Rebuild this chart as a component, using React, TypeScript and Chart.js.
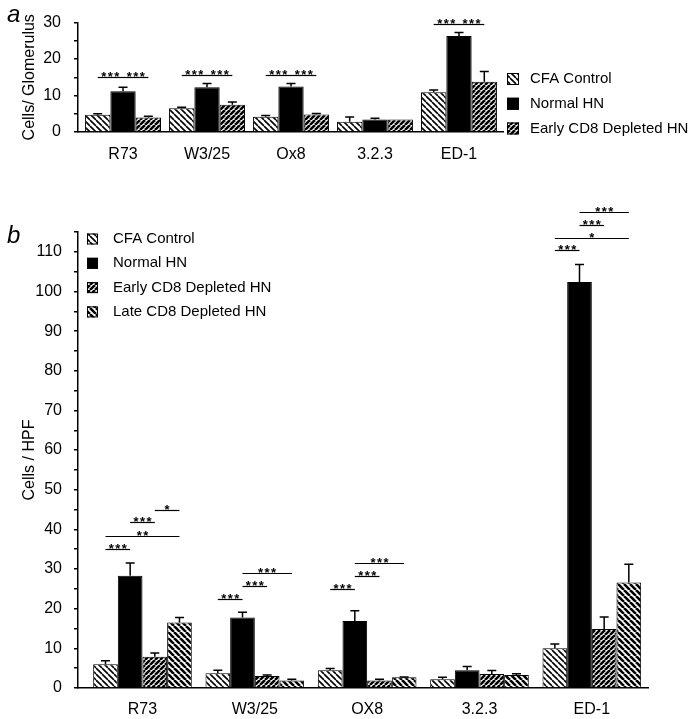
import React, { useEffect, useRef } from 'react';
import { Chart, registerables } from 'chart.js';

Chart.register(...registerables);

const FONT = '"Liberation Sans", Arial, Helvetica, sans-serif';

// ---------- Panel a ----------
const categoriesA = ['R73', 'W3/25', 'Ox8', '3.2.3', 'ED-1'];
const seriesA = ['CFA Control', 'Normal HN', 'Early CD8 Depleted HN'];
const cfaA = [4.7, 6.5, 4.2, 2.8, 10.9];
const cfaErrA = [0.3, 0.3, 0.3, 1.3, 0.6];
const normalA = [11.2, 12.3, 12.5, 3.4, 26.3];
const normalErrA = [1.1, 1.0, 0.8, 0.4, 1.0];
const earlyA = [4.0, 7.5, 4.8, 3.4, 13.8];
const earlyErrA = [0.3, 0.75, 0.3, 0, 2.8];
const yTicksA = [0, 10, 20, 30];
// [category, from series, to series, level, label]
const sigA: [number, number, number, number, string][] = [
  [0, 0, 1, 15.1, '***'], [0, 1, 2, 15.1, '***'],
  [1, 0, 1, 15.7, '***'], [1, 1, 2, 15.7, '***'],
  [2, 0, 1, 15.7, '***'], [2, 1, 2, 15.7, '***'],
  [4, 0, 1, 29.7, '***'], [4, 1, 2, 29.7, '***'],
];

// ---------- Panel b ----------
const categoriesB = ['R73', 'W3/25', 'OX8', '3.2.3', 'ED-1'];
const seriesB = ['CFA Control', 'Normal HN', 'Early CD8 Depleted HN', 'Late CD8 Depleted HN'];
const cfaB = [6.0, 3.7, 4.5, 2.2, 10.0];
const cfaErrB = [0.9, 0.8, 0.4, 0.5, 1.1];
const normalB = [28.3, 17.8, 16.9, 4.5, 102.4];
const normalErrB = [3.2, 1.3, 2.6, 0.9, 4.4];
const earlyB = [7.9, 3.0, 1.9, 3.5, 14.9];
const earlyErrB = [0.9, 0.3, 0.3, 0.9, 3.0];
const lateB = [16.5, 1.9, 2.7, 3.3, 26.6];
const lateErrB = [1.3, 0.3, 0.1, 0.3, 4.6];
const yTicksB = [0, 10, 20, 30, 40, 50, 60, 70, 80, 90, 100, 110];
const sigB: [number, number, number, number, string][] = [
  [0, 0, 1, 35.1, '***'], [0, 0, 3, 38.4, '**'], [0, 1, 2, 41.8, '***'], [0, 2, 3, 44.9, '*'],
  [1, 0, 1, 22.5, '***'], [1, 1, 2, 25.8, '***'], [1, 1, 3, 29.1, '***'],
  [2, 0, 1, 24.9, '***'], [2, 1, 2, 28.3, '***'], [2, 1, 3, 31.6, '***'],
  [4, 0, 1, 110.4, '***'], [4, 0, 3, 113.5, '*'], [4, 1, 2, 116.8, '***'], [4, 1, 3, 120.0, '***'],
];

type Kind = 'cfa' | 'normal' | 'early' | 'late';

function makeFill(ctx: CanvasRenderingContext2D, kind: Kind): string | CanvasPattern {
  if (kind === 'normal') return '#000';
  const size = kind === 'early' ? 5 : 6;
  const c = document.createElement('canvas');
  c.width = size;
  c.height = size;
  const g = c.getContext('2d')!;
  g.fillStyle = '#fff';
  g.fillRect(0, 0, size, size);
  g.strokeStyle = '#000';
  g.lineWidth = kind === 'cfa' ? 1.6 : 2.6;
  g.beginPath();
  for (const o of [-size, 0, size]) {
    if (kind === 'early') {
      g.moveTo(o, size);
      g.lineTo(o + size, 0);
    } else {
      g.moveTo(o, 0);
      g.lineTo(o + size, size);
    }
  }
  g.stroke();
  return ctx.createPattern(c, 'repeat') as CanvasPattern;
}

interface Panel {
  categories: string[];
  names: string[];
  values: number[][];
  errors: number[][];
  kinds: Kind[];
  yTickLabels: number[];
  catPct: number;
  xMin: number;
  xMax: number;
  yMax: number;
  yTitle: string;
  padTop: number;
  padRight: number;
  xHeight: number;
  xPad: number;
  yPad: number;
  sig: [number, number, number, number, string][];
  legend: { boxX: number; box: number; textX: number; y0: number; gap: number };
  label: { text: string; x: number; y: number };
}

function buildChart(canvas: HTMLCanvasElement, p: Panel) {
  const ctx = canvas.getContext('2d')!;
  const fills = p.kinds.map((k) => makeFill(ctx, k));

  const overlay = {
    id: 'overlay',
    afterDatasetsDraw(chart: any) {
      const c = chart.ctx as CanvasRenderingContext2D;
      const ys = chart.scales.y;
      c.save();
      c.strokeStyle = '#000';
      c.lineWidth = 1.5;
      p.values.forEach((vals, d) => {
        const meta = chart.getDatasetMeta(d);
        vals.forEach((v, i) => {
          const e = p.errors[d][i];
          if (!e) return;
          const x = meta.data[i].x;
          const y0 = ys.getPixelForValue(v);
          const y1 = ys.getPixelForValue(v + e);
          c.beginPath();
          c.moveTo(x, y0);
          c.lineTo(x, y1);
          c.moveTo(x - 4.5, y1);
          c.lineTo(x + 4.5, y1);
          c.stroke();
        });
      });
      c.restore();
    },
    afterDraw(chart: any) {
      const c = chart.ctx as CanvasRenderingContext2D;
      const ys = chart.scales.y;
      c.save();
      // significance lines
      c.strokeStyle = '#000';
      c.fillStyle = '#000';
      c.lineWidth = 1.2;
      c.font = `bold 13px ${FONT}`;
      c.textAlign = 'center';
      c.textBaseline = 'alphabetic';
      p.sig.forEach(([g, a, b, level, lab]) => {
        const x1 = chart.getDatasetMeta(a).data[g].x;
        const x2 = chart.getDatasetMeta(b).data[g].x;
        const y = Math.round(ys.getPixelForValue(level)) + 0.5;
        c.beginPath();
        c.moveTo(x1, y);
        c.lineTo(x2, y);
        c.stroke();
        const mid = (x1 + x2) / 2;
        const n = lab.length;
        for (let k = 0; k < n; k++) {
          c.fillText('*', mid + (k - (n - 1) / 2) * 6.5, y + 3);
        }
      });
      // legend
      const L = p.legend;
      c.font = `15px ${FONT}`;
      c.textAlign = 'left';
      c.textBaseline = 'middle';
      p.names.forEach((name, k) => {
        const cy = L.y0 + k * L.gap;
        c.fillStyle = fills[k] as any;
        c.fillRect(L.boxX, cy - L.box / 2, L.box, L.box);
        c.strokeStyle = '#000';
        c.lineWidth = 1;
        c.strokeRect(L.boxX + 0.5, cy - L.box / 2 + 0.5, L.box - 1, L.box - 1);
        c.fillStyle = '#000';
        c.fillText(name, L.textX, cy);
      });
      // panel letter
      c.font = `italic 24px ${FONT}`;
      c.textBaseline = 'alphabetic';
      c.fillText(p.label.text, p.label.x, p.label.y);
      c.restore();
    },
  };

  return new Chart(canvas, {
    type: 'bar',
    data: {
      datasets: p.names.map((name, k) => ({
        label: name,
        data: p.values[k].map((v, i) => ({ x: i, y: v })),
        backgroundColor: fills[k] as any,
        borderColor: '#000',
        borderWidth: 1,
        categoryPercentage: p.catPct,
        barPercentage: 1,
      })),
    },
    options: {
      animation: false,
      responsive: false,
      events: [],
      layout: { padding: { left: 0, top: p.padTop, right: p.padRight, bottom: 0 } },
      plugins: { legend: { display: false }, tooltip: { enabled: false } },
      scales: {
        x: {
          type: 'linear',
          min: p.xMin,
          max: p.xMax,
          offset: false,
          grid: { display: false, drawTicks: false },
          border: { display: true, color: '#000', width: 1.5 },
          afterBuildTicks: (s: any) => {
            s.ticks = p.categories.map((_, i) => ({ value: i }));
          },
          ticks: {
            autoSkip: false,
            maxRotation: 0,
            padding: p.xPad,
            color: '#000',
            font: { family: FONT, size: 16 },
            callback: (v: any) => p.categories[v] ?? '',
          },
          afterFit: (s: any) => {
            s.height = p.xHeight;
          },
        },
        y: {
          min: 0,
          max: p.yMax,
          ticks: {
            stepSize: 5,
            autoSkip: false,
            padding: p.yPad,
            color: '#000',
            font: { family: FONT, size: 16 },
            callback: (v: any) => (p.yTickLabels.includes(v) ? String(v) : ''),
          },
          grid: { drawOnChartArea: false, drawTicks: true, tickLength: 4, color: '#000', lineWidth: 1.5 },
          border: { display: true, color: '#000', width: 1.5 },
          title: {
            display: true,
            text: p.yTitle,
            color: '#000',
            font: { family: FONT, size: 16 },
            padding: { top: 20, bottom: 0 },
          },
          afterFit: (s: any) => {
            s.width = 78;
          },
        },
      },
    } as any,
    plugins: [overlay],
  });
}

export default function App() {
  const refA = useRef<HTMLCanvasElement>(null);
  const refB = useRef<HTMLCanvasElement>(null);

  useEffect(() => {
    document.body.style.margin = '0';
    const chartA = buildChart(refA.current!, {
      categories: categoriesA,
      names: seriesA,
      values: [cfaA, normalA, earlyA],
      errors: [cfaErrA, normalErrA, earlyErrA],
      kinds: ['cfa', 'normal', 'early'],
      yTickLabels: yTicksA,
      catPct: 0.904,
      xMin: -0.536,
      xMax: 4.524,
      yMax: 30,
      yTitle: 'Cells/ Glomerulus',
      padTop: 12,
      padRight: 188,
      xHeight: 38,
      xPad: 13,
      yPad: 13,
      sig: sigA,
      legend: { boxX: 507, box: 12, textX: 530, y0: 79, gap: 24.75 },
      label: { text: 'a', x: 7, y: 22 },
    });
    const chartB = buildChart(refB.current!, {
      categories: categoriesB,
      names: seriesB,
      values: [cfaB, normalB, earlyB, lateB],
      errors: [cfaErrB, normalErrB, earlyErrB, lateErrB],
      kinds: ['cfa', 'normal', 'early', 'late'],
      yTickLabels: yTicksB,
      catPct: 0.878,
      xMin: -0.574,
      xMax: 4.5,
      yMax: 115,
      yTitle: 'Cells / HPF',
      padTop: 62,
      padRight: 43,
      xHeight: 31,
      xPad: 12,
      yPad: 12,
      sig: sigB,
      legend: { boxX: 87, box: 11, textX: 113, y0: 69, gap: 24.3 },
      label: { text: 'b', x: 7, y: 73 },
    });
    return () => {
      chartA.destroy();
      chartB.destroy();
    };
  }, []);

  return (
    <div style={{ position: 'relative', width: 691, height: 719, background: '#fff' }}>
      <canvas ref={refA} width={691} height={170} style={{ position: 'absolute', left: 0, top: 0 }} />
      <canvas ref={refB} width={691} height={549} style={{ position: 'absolute', left: 0, top: 170 }} />
    </div>
  );
}
